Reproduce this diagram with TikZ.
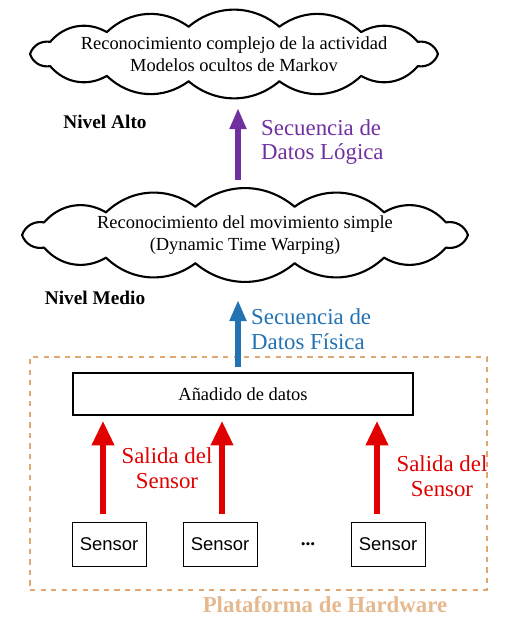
\documentclass[tikz,border=0pt]{standalone}
\usepackage{fontspec}
\setmainfont{Liberation Serif}
\setsansfont{Liberation Sans}
\usepackage{xcolor}
\usetikzlibrary{arrows.meta, positioning, calc}
\definecolor{purpleseq}{HTML}{7030A0}
\definecolor{blueseq}{HTML}{2272B4}
\definecolor{redout}{HTML}{E00000}
\definecolor{hwframe}{HTML}{E0A870}
\definecolor{hwtext}{HTML}{E6B88E}

\begin{document}
\begin{tikzpicture}[x=0.02cm, y=-0.02cm,
    nube/.style={align=center, font=\fontsize{10.5}{12.5}\selectfont, inner sep=0pt},
    borde/.style={line width=1.2pt, line cap=round, line join=round},
    nivel/.style={font=\fontsize{11}{13}\selectfont\bfseries},
    etiqueta/.style={align=left, font=\fontsize{13}{14}\selectfont},
    sensorbox/.style={draw, minimum width=74*0.02cm, minimum height=44*0.02cm,
        font=\sffamily\fontsize{10.5}{12}\selectfont, inner sep=0pt},
    flechaout/.style={redout, line width=3.5pt, -{Triangle[length=14pt, width=12pt]},
        shorten <=8*0.02cm, shorten >=5*0.02cm},
    flechaseq/.style={line width=3pt, -{Triangle[length=12pt, width=9pt]}}]
\useasboundingbox (0,0) rectangle (506,622);

% nivel alto
\node[nube] (alto) at (234,54)
    {Reconocimiento complejo de la actividad\\Modelos ocultos de Markov};
\foreach \i in {0,...,13}
    \draw[borde] ($(alto)+({204*cos(\i*360/14)},{28*sin(\i*360/14)})$)
        to[bend left=40] ($(alto)+({204*cos((\i+1)*360/14)},{28*sin((\i+1)*360/14)})$);
\node[nivel] (nalto) at (105,122) {Nivel Alto};

% nivel medio
\node[nube] (medio) at (245,235)
    {Reconocimiento del movimiento simple\\(Dynamic Time Warping)};
\foreach \i in {0,...,13}
    \draw[borde] ($(medio)+({223*cos(\i*360/14)},{29*sin(\i*360/14)})$)
        to[bend left=40] ($(medio)+({223*cos((\i+1)*360/14)},{29*sin((\i+1)*360/14)})$);
\node[nivel] (nmedio) at (95,298) {Nivel Medio};

% plataforma de hardware
\node[draw=hwframe, dashed, line width=1pt, minimum width=457*0.02cm,
    minimum height=233*0.02cm, inner sep=0pt] (hw) at (258.5,473.5) {};
\node[hwtext, font=\fontsize{13}{14}\selectfont\bfseries] (nhw) at (325,605) {Plataforma de Hardware};

\node[draw, line width=0.8pt, minimum width=340*0.02cm, minimum height=42*0.02cm,
    font=\fontsize{10.5}{12}\selectfont, inner sep=0pt] (agg) at (243,394) {Añadido de datos};

\node[sensorbox] (s1) at (109,544) {Sensor};
\node[sensorbox] (s2) at (220,544) {Sensor};
\node[sensorbox] (s3) at (388,544) {Sensor};
\node[font=\fontsize{11}{12}\selectfont\bfseries] (dots) at (308,544) {...};

% flechas de los sensores
\coordinate (x1) at (103,0);
\coordinate (x2) at (222,0);
\coordinate (x3) at (377,0);
\coordinate (xc) at (238,0);
\draw[flechaout] (s1.north -| x1) -- (agg.south -| x1);
\draw[flechaout] (s2.north -| x2) -- (agg.south -| x2);
\draw[flechaout] (s3.north -| x3) -- (agg.south -| x3);
\node[etiqueta, redout, align=center] (sal1) at (167,468) {Salida del\\Sensor};
\node[etiqueta, redout, align=center] (sal2) at (442,476) {Salida del\\Sensor};

% secuencias de datos
\draw[flechaseq, blueseq, shorten <=5*0.02cm, shorten >=65*0.02cm]
    (agg.north -| xc) -- (medio.center -| xc);
\node[etiqueta, blueseq, anchor=west] (fisica) at (245,329) {Secuencia de\\Datos Física};
\draw[flechaseq, purpleseq, shorten <=55*0.02cm, shorten >=54*0.02cm]
    (medio.center -| xc) -- (alto.center -| xc);
\node[etiqueta, purpleseq, anchor=west] (logica) at (255,142) {Secuencia de\\Datos Lógica};
\end{tikzpicture}
\end{document}
